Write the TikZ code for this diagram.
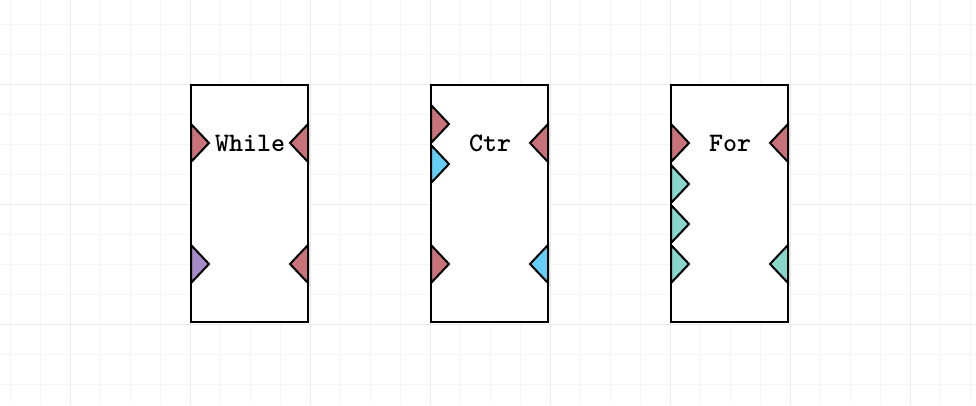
\documentclass[tikz,border=0pt]{standalone}
\usepackage{fontspec}
\usepackage{tikz}
\usetikzlibrary{positioning}
\definecolor{portred}{HTML}{C8737A}
\definecolor{portpurple}{HTML}{A68BC8}
\definecolor{portblue}{HTML}{66CDF5}
\definecolor{portteal}{HTML}{88D5C9}
\tikzset{
  minorgrid/.style={draw=black!4,line width=0.75pt},
  majorgrid/.style={draw=black!8,line width=0.75pt},
  blockbox/.style={draw=black,fill=white,line width=1.5pt,inner sep=0pt,outer sep=0pt,
    minimum width=87.75pt,minimum height=177.75pt},
  blocklabel/.style={anchor=base,inner sep=0pt,font=\ttfamily\bfseries\fontsize{20pt}{22pt}\selectfont},
  portedge/.style={draw=black,line width=1.5pt,line join=miter},
}
\newcommand{\inport}[3]{\filldraw[portedge,fill=#3] (#1.west |- 0,#2) ++(0,-19) -- ++(18,19) -- ++(-18,19) -- cycle;}
\newcommand{\outport}[3]{\filldraw[portedge,fill=#3] (#1.east |- 0,#2) ++(0,-19) -- ++(-18,19) -- ++(18,19) -- cycle;}

\begin{document}
\begin{tikzpicture}[x=0.75pt,y=-0.75pt]
  \useasboundingbox[fill=white] (0,0) rectangle (976,405);
  \foreach \gx in {10,40,...,970} \draw[minorgrid] (\gx,0) -- (\gx,405);
  \foreach \gy in {24,54,...,384} \draw[minorgrid] (0,\gy) -- (976,\gy);
  \foreach \gx in {70,190,...,910} \draw[majorgrid] (\gx,0) -- (\gx,405);
  \foreach \gy in {84,204,324} \draw[majorgrid] (0,\gy) -- (976,\gy);
  \node[blockbox] (whileBlk) at (249.5,203.75) {};
  \node[blockbox] (ctrBlk) at (489.5,203.75) {};
  \node[blockbox] (forBlk) at (729.5,203.75) {};
  \node[blocklabel] (whileLbl) at (250,151) {While};
  \node[blocklabel] (ctrLbl) at (490,151) {Ctr};
  \node[blocklabel] (forLbl) at (730,151) {For};
  \foreach \py/\pc in {143/portred,264/portpurple} \inport{whileBlk}{\py}{\pc};
  \foreach \py/\pc in {143/portred,264/portred} \outport{whileBlk}{\py}{\pc};
  \foreach \py/\pc in {124/portred,164/portblue,264/portred} \inport{ctrBlk}{\py}{\pc};
  \foreach \py/\pc in {143/portred,264/portblue} \outport{ctrBlk}{\py}{\pc};
  \foreach \py/\pc in {143/portred,184/portteal,224/portteal,264/portteal} \inport{forBlk}{\py}{\pc};
  \foreach \py/\pc in {143/portred,264/portteal} \outport{forBlk}{\py}{\pc};
\end{tikzpicture}
\end{document}
